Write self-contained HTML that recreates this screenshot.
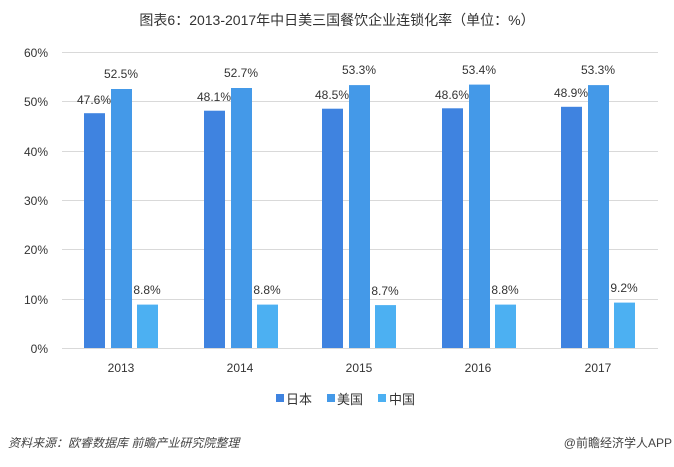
<!DOCTYPE html>
<html><head><meta charset="utf-8"><style>
body{margin:0;background:#fff;}
text{font-family:"Liberation Sans","Noto Sans CJK SC",sans-serif;}
</style></head><body>
<svg width="674" height="462" xmlns="http://www.w3.org/2000/svg">
<rect width="674" height="462" fill="#fff"/>
<text x="337" y="25" text-anchor="middle" font-size="14" fill="#333">图表6：2013-2017年中日美三国餐饮企业连锁化率（单位：%）</text>
<g stroke="#d9d9d9" stroke-width="1">
<line x1="62" x2="658" y1="52.5" y2="52.5"/>
<line x1="62" x2="658" y1="101.5" y2="101.5"/>
<line x1="62" x2="658" y1="151.5" y2="151.5"/>
<line x1="62" x2="658" y1="200.5" y2="200.5"/>
<line x1="62" x2="658" y1="249.5" y2="249.5"/>
<line x1="62" x2="658" y1="299.5" y2="299.5"/>
<line x1="62" x2="658" y1="348.5" y2="348.5"/>
</g>
<g font-size="12" fill="#333" text-anchor="end">
<text x="48" y="57">60%</text><text x="48" y="106">50%</text><text x="48" y="156">40%</text>
<text x="48" y="205">30%</text><text x="48" y="254">20%</text><text x="48" y="304">10%</text><text x="48" y="353">0%</text>
</g>
<g id="bars"></g>
<g font-size="12" fill="#333" text-anchor="middle">
<!-- 2013 -->
<rect x="84" y="113.2" width="21" height="234.8" fill="#3f83e0"/>
<rect x="111" y="89" width="21" height="259" fill="#4499e8"/>
<rect x="137" y="304.6" width="21" height="43.4" fill="#4cb0f2"/>
<text x="94" y="104">47.6%</text><text x="121" y="78">52.5%</text><text x="147" y="294">8.8%</text>
<text x="121" y="372">2013</text>
<!-- 2014 -->
<rect x="204" y="110.7" width="21" height="237.3" fill="#3f83e0"/>
<rect x="231" y="88" width="21" height="260" fill="#4499e8"/>
<rect x="257" y="304.6" width="21" height="43.4" fill="#4cb0f2"/>
<text x="214" y="101">48.1%</text><text x="241" y="77">52.7%</text><text x="267" y="294">8.8%</text>
<text x="240" y="372">2014</text>
<!-- 2015 -->
<rect x="322" y="108.7" width="21" height="239.3" fill="#3f83e0"/>
<rect x="349" y="85.1" width="21" height="262.9" fill="#4499e8"/>
<rect x="375" y="305.1" width="21" height="42.9" fill="#4cb0f2"/>
<text x="332" y="99">48.5%</text><text x="359" y="74">53.3%</text><text x="385" y="295">8.7%</text>
<text x="359" y="372">2015</text>
<!-- 2016 -->
<rect x="442" y="108.3" width="21" height="239.7" fill="#3f83e0"/>
<rect x="469" y="84.6" width="21" height="263.4" fill="#4499e8"/>
<rect x="495" y="304.6" width="21" height="43.4" fill="#4cb0f2"/>
<text x="452" y="99">48.6%</text><text x="479" y="74">53.4%</text><text x="505" y="294">8.8%</text>
<text x="478" y="372">2016</text>
<!-- 2017 -->
<rect x="561" y="106.8" width="21" height="241.2" fill="#3f83e0"/>
<rect x="588" y="85.1" width="21" height="262.9" fill="#4499e8"/>
<rect x="614" y="302.6" width="21" height="45.4" fill="#4cb0f2"/>
<text x="571" y="97">48.9%</text><text x="598" y="74">53.3%</text><text x="624" y="292">9.2%</text>
<text x="598" y="372">2017</text>
</g>
<g font-size="13" fill="#333">
<rect x="276" y="394" width="8" height="8" fill="#3f83e0"/><text x="286" y="404">日本</text>
<rect x="327" y="394" width="8" height="8" fill="#4499e8"/><text x="337" y="404">美国</text>
<rect x="378" y="394" width="8" height="8" fill="#4cb0f2"/><text x="389" y="404">中国</text>
</g>
<text x="8" y="447" font-size="12" font-style="italic" fill="#444">资料来源：欧睿数据库 前瞻产业研究院整理</text>
<text x="672" y="447" font-size="12" fill="#444" text-anchor="end">@前瞻经济学人APP</text>
</svg>
</body></html>
